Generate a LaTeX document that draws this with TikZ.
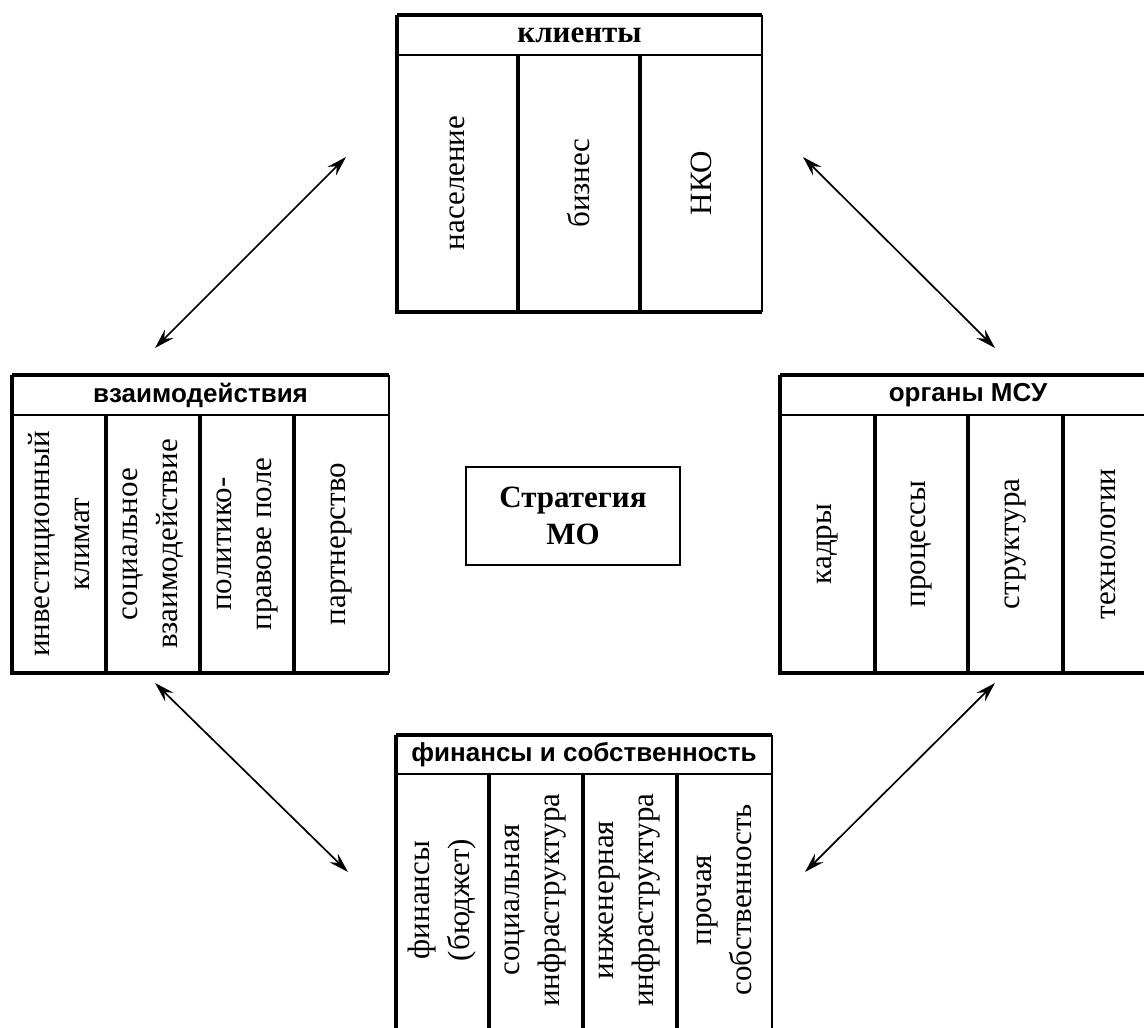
\documentclass[tikz,border=0pt]{standalone}
\usepackage{fontspec}
\setmainfont{Liberation Serif}
\newfontfamily\hdrfont{Liberation Sans}
\usetikzlibrary{arrows.meta}
\begin{document}
\begin{tikzpicture}[x=1pt,y=-1pt,
  thickline/.style={line width=3.2pt},
  thinline/.style={line width=2.2pt},
  hdr/.style={font=\hdrfont\bfseries\fontsize{26}{30}\selectfont, anchor=center, inner sep=0pt},
  hdrserif/.style={font=\bfseries\fontsize{31}{36}\selectfont, anchor=center, inner sep=0pt},
  cell/.style={font=\fontsize{31}{40}\selectfont, rotate=90, align=center, anchor=center, inner sep=0pt},
  tipx/.tip={Stealth[length=20pt,width=12pt,inset=7pt]},
  link/.style={line width=1.7pt, tipx-tipx},
  ctr/.style={draw, line width=2.4pt, font=\bfseries\fontsize{31}{37}\selectfont, align=center, minimum width=214pt, minimum height=98pt, inner sep=0pt}
]
\useasboundingbox (0,0) rectangle (1144,1028);

% ---------- top table: клиенты ----------
\draw[thickline] (397,15) -- (762,15);
\draw[thickline] (397,15) -- (397,312) -- (762,312);
\draw[thinline] (762,15) -- (762,312);
\draw[thinline] (397,55) -- (762,55);
\draw[thickline] (518,55) -- (518,312);
\draw[thickline] (640,55) -- (640,312);
\node[hdrserif] (hT) at (579.5,35) {клиенты};
\node[cell] (t1) at (457.5,183) {население};
\node[cell] (t2) at (579,183) {бизнес};
\node[cell] (t3) at (701,183) {НКО};

% ---------- left table: взаимодействия ----------
\draw[thickline] (12,375) -- (389,375);
\draw[thickline] (12,375) -- (12,673) -- (389,673);
\draw[thinline] (389,375) -- (389,673);
\draw[thinline] (12,415) -- (389,415);
\draw[thickline] (106,415) -- (106,673);
\draw[thickline] (200,415) -- (200,673);
\draw[thickline] (294,415) -- (294,673);
\node[hdr] (hL) at (200.5,395) {взаимодействия};
\node[cell] (l1) at (59,544) {инвестиционный\\климат};
\node[cell] (l2) at (153,544) {социальное\\взаимодействие};
\node[cell] (l3) at (247,544) {политико-\\правове поле};
\node[cell] (l4) at (341.5,544) {партнерство};

% ---------- right table: органы МСУ ----------
\draw[thickline] (780,375) -- (1144,375);
\draw[thickline] (780,375) -- (780,673) -- (1144,673);
\draw[thinline] (780,415) -- (1144,415);
\draw[thickline] (875,415) -- (875,673);
\draw[thickline] (968,415) -- (968,673);
\draw[thickline] (1063,415) -- (1063,673);
\node[hdr] (hR) at (968,395) {органы МСУ};
\node[cell] (r1) at (827.5,544) {кадры};
\node[cell] (r2) at (921.5,544) {процессы};
\node[cell] (r3) at (1015.5,544) {структура};
\node[cell] (r4) at (1108,544) {технологии};

% ---------- bottom table: финансы и собственность ----------
\draw[thickline] (396,735) -- (772,735);
\draw[thickline] (396,735) -- (396,1028);
\draw[thinline] (772,735) -- (772,1028);
\draw[thinline] (396,774) -- (772,774);
\draw[thickline] (489,774) -- (489,1028);
\draw[thickline] (583,774) -- (583,1028);
\draw[thickline] (677,774) -- (677,1028);
\node[hdr] (hB) at (584,755) {финансы и собственность};
\node[cell] (b1) at (442.5,900) {финансы\\(бюджет)};
\node[cell] (b2) at (536,900) {социальная\\инфраструктура};
\node[cell] (b3) at (630,900) {инженерная\\инфраструктура};
\node[cell] (b4) at (724.5,900) {прочая\\собственность};

% ---------- centre ----------
\node[ctr] (mo) at (573,516) {Стратегия\\МО};

% ---------- arrows ----------
\coordinate (a1s) at (155,348); \coordinate (a1e) at (346,157);
\coordinate (a2s) at (803,157); \coordinate (a2e) at (995,348);
\coordinate (a3s) at (155,683); \coordinate (a3e) at (348,872);
\coordinate (a4s) at (995,683); \coordinate (a4e) at (805,872);
\draw[link] (a1s) -- (a1e);
\draw[link] (a2s) -- (a2e);
\draw[link] (a3s) -- (a3e);
\draw[link] (a4s) -- (a4e);
\end{tikzpicture}
\end{document}
